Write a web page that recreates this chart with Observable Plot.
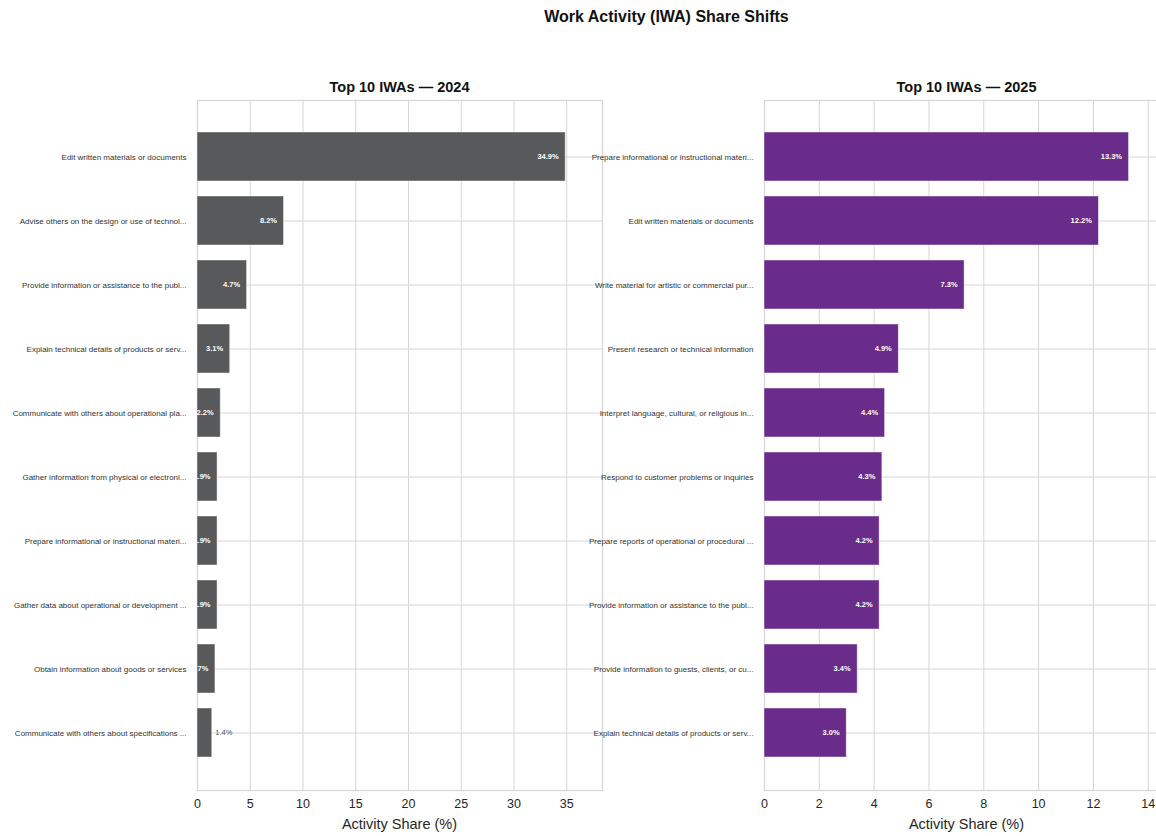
<!DOCTYPE html>
<html>
<head>
<meta charset="utf-8">
<script src="https://cdn.jsdelivr.net/npm/d3@7"></script>
<script src="https://cdn.jsdelivr.net/npm/@observablehq/plot@0.6"></script>
<style>
  html, body { margin: 0; padding: 0; background: #fff; }
  body { width: 1156px; height: 836px; overflow: hidden; position: relative; font-family: "Liberation Sans", Arial, sans-serif; color: #262626; }
  .abs { position: absolute; }
  .title { top: 8px; left: 0; width: 1333px; text-align: center; font-size: 16px; font-weight: bold; color: #111; }
  .sub { top: 79px; font-size: 14.5px; font-weight: bold; color: #111; text-align: center; }
  .xlab { top: 816px; font-size: 14.5px; text-align: center; color: #262626; }
  svg { overflow: visible; }
</style>
</head>
<body>
<script>
const labels2024 = [
  "Edit written materials or documents",
  "Advise others on the design or use of technol...",
  "Provide information or assistance to the publ...",
  "Explain technical details of products or serv...",
  "Communicate with others about operational pla...",
  "Gather information from physical or electroni...",
  "Prepare informational or instructional materi...",
  "Gather data about operational or development ...",
  "Obtain information about goods or services",
  "Communicate with others about specifications ..."
];
const values2024 = [34.9, 8.2, 4.7, 3.1, 2.2, 1.9, 1.9, 1.9, 1.7, 1.4];

const labels2025 = [
  "Prepare informational or instructional materi...",
  "Edit written materials or documents",
  "Write material for artistic or commercial pur...",
  "Present research or technical information",
  "Interpret language, cultural, or religious in...",
  "Respond to customer problems or inquiries",
  "Prepare reports of operational or procedural ...",
  "Provide information or assistance to the publ...",
  "Provide information to guests, clients, or cu...",
  "Explain technical details of products or serv..."
];
const values2025 = [13.3, 12.2, 7.3, 4.9, 4.4, 4.3, 4.2, 4.2, 3.4, 3.0];

const ticks2024 = [0, 5, 10, 15, 20, 25, 30, 35];
const ticks2025 = [0, 2, 4, 6, 8, 10, 12, 14];

const titleText = "Work Activity (IWA) Share Shifts";
const subtitles = ["Top 10 IWAs \u2014 2024", "Top 10 IWAs \u2014 2025"];
const xLabel = "Activity Share (%)";

const gridColor = "#d6d6d6";

function panel(labels, values, ticks, color, plotWidth) {
  const data = labels.map((l, i) => ({label: l, value: values[i]}));
  const max = d3.max(values) * 1.1;
  const inside = data.filter(d => d.value >= 1.5);
  const outside = data.filter(d => d.value < 1.5);
  return Plot.plot({
    width: plotWidth + 200 + 12,
    height: 10 + 690 + 40,
    marginLeft: 200,
    marginRight: 12,
    marginTop: 10,
    marginBottom: 40,
    style: {background: "transparent", fontFamily: "'Liberation Sans', Arial, sans-serif", color: "#262626", overflow: "visible"},
    x: {domain: [0, max], ticks: ticks},
    y: {domain: labels, paddingInner: 0.23, paddingOuter: 0.505},
    marks: [
      Plot.gridX(ticks, {stroke: gridColor, strokeOpacity: 1, strokeWidth: 1}),
      Plot.gridY({stroke: gridColor, strokeOpacity: 1, strokeWidth: 1}),
      Plot.frame({stroke: gridColor, strokeWidth: 1.2}),
      Plot.barX(data, {x: "value", y: "label", fill: color, stroke: "#ffffff", strokeOpacity: 0.55, strokeWidth: 0.8}),
      Plot.text(inside, {x: "value", y: "label", text: d => d.value.toFixed(1) + "%", textAnchor: "end", dx: -7, fill: "white", fontSize: 7.5, fontWeight: "bold"}),
      Plot.text(outside, {x: "value", y: "label", text: d => d.value.toFixed(1) + "%", textAnchor: "start", dx: 3, fill: "#555", fontSize: 7.5}),
      Plot.axisX({ticks: ticks, tickSize: 0, tickPadding: 9, fontSize: 12.5, label: null, tickFormat: d => String(d)}),
      Plot.axisY({tickSize: 0, tickPadding: 11, fontSize: 8, label: null, textAnchor: "end", fill: "#333"})
    ]
  });
}

const t = document.createElement("div");
t.className = "abs title";
t.textContent = titleText;
document.body.appendChild(t);

const left = panel(labels2024, values2024, ticks2024, "#58595b", 405);
left.style.position = "absolute";
left.style.left = "-3px";
left.style.top = "90px";
document.body.appendChild(left);

const right = panel(labels2025, values2025, ticks2025, "#6a2c8a", 401);
right.style.position = "absolute";
right.style.left = "564px";
right.style.top = "90px";
document.body.appendChild(right);

const subPos = [[197, 405], [764, 405]];
subtitles.forEach((s, i) => {
  const d = document.createElement("div");
  d.className = "abs sub";
  d.style.left = subPos[i][0] + "px";
  d.style.width = subPos[i][1] + "px";
  d.textContent = s;
  document.body.appendChild(d);
  const x = document.createElement("div");
  x.className = "abs xlab";
  x.style.left = subPos[i][0] + "px";
  x.style.width = subPos[i][1] + "px";
  x.textContent = xLabel;
  document.body.appendChild(x);
});
</script>
</body>
</html>
